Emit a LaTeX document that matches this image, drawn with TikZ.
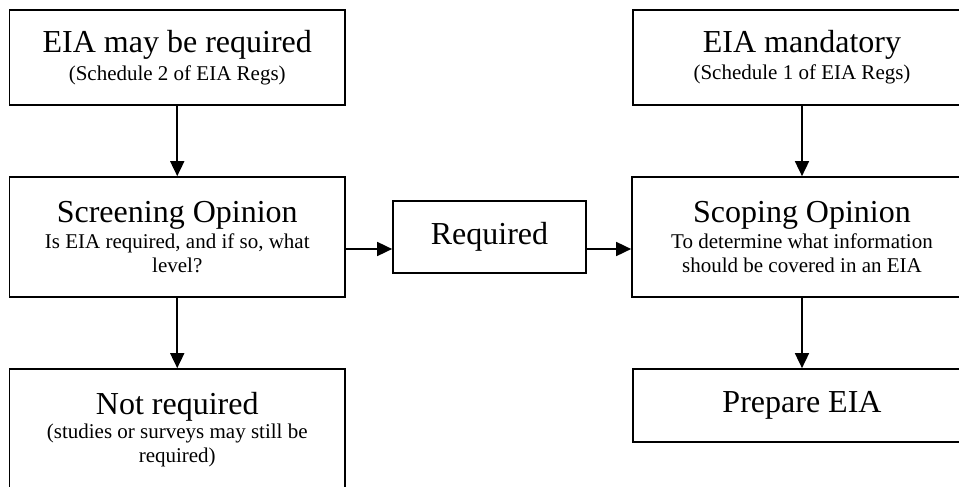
\documentclass[tikz,border=0pt]{standalone}
\usepackage{fontspec}
\setmainfont{Liberation Serif}
\usetikzlibrary{arrows.meta}
\newcommand{\ttlfont}{\fontsize{32}{36}\selectfont}
\newcommand{\sbtfont}{\fontsize{21}{24}\selectfont}
\begin{document}
\begin{tikzpicture}[x=1pt,y=1pt,
  box/.style={draw, line width=1.7pt, rectangle, align=center, inner sep=0pt, font=\sbtfont},
  conn/.style={line width=1.7pt, -{Triangle[length=15pt,width=14pt]}}]
\useasboundingbox (0,0) rectangle (959,-487);
\fill[white] (0,0) rectangle (959,-487);
\begin{scope}
\clip (0,0) rectangle (959,-487);
\node[box, minimum width=335.5pt, minimum height=95pt] (may) at (177.25,-57.5)
  {{\ttlfont EIA may be required}\\[4pt](Schedule 2 of EIA Regs)};
\node[box, minimum width=335.5pt, minimum height=120pt] (scr) at (177.25,-237)
  {{\ttlfont Screening Opinion}\\[2pt]Is EIA required, and if so, what\\level?};
\node[box, minimum width=335.5pt, minimum height=120.5pt] (notreq) at (177.25,-429.25)
  {{\ttlfont Not required}\\[0pt](studies or surveys may still be\\required)};
\node[box, minimum width=193pt, minimum height=72pt] (req) at (489.5,-237)
  {\ttlfont Required};
\node[box, minimum width=338pt, minimum height=95pt] (mand) at (802,-57.5)
  {{\ttlfont EIA mandatory}\\[3pt](Schedule 1 of EIA Regs)};
\node[box, minimum width=340pt, minimum height=120pt] (scope) at (802,-237)
  {{\ttlfont Scoping Opinion}\\[2pt]To determine what information\\should be covered in an EIA};
\node[box, minimum width=338pt, minimum height=73pt] (prep) at (802,-405.5)
  {\ttlfont Prepare EIA};
\end{scope}
\draw[conn] (may.south) -- (scr.north);
\draw[conn] (scr.south) -- (notreq.north);
\draw[conn] ([yshift=-12pt]scr.east) -- ([yshift=-12pt]req.west);
\draw[conn] ([yshift=-12pt]req.east) -- ([yshift=-12pt]scope.west);
\draw[conn] (mand.south) -- (scope.north);
\draw[conn] (scope.south) -- (prep.north);
\end{tikzpicture}
\end{document}
